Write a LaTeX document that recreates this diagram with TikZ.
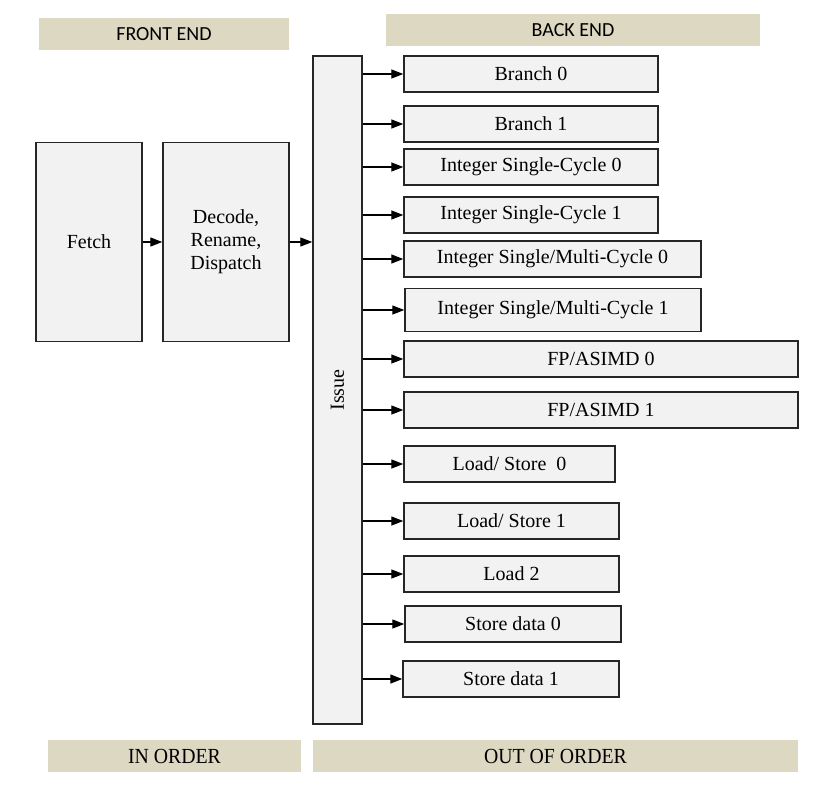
\documentclass[tikz,border=0pt]{standalone}
\usepackage{fontspec}
\setmainfont{Liberation Serif}
\newfontfamily\hdrfont{Carlito}
\usetikzlibrary{arrows.meta}
\definecolor{hdr}{HTML}{DDD8C1}
\definecolor{boxfill}{HTML}{F2F2F2}
\definecolor{edge}{HTML}{262626}
\newcommand{\condensed}[1]{\scalebox{0.92}[1]{#1}}
\begin{document}
\begin{tikzpicture}[x=1pt,y=-1pt,
  unit/.style={draw=edge, line width=1.4pt, fill=boxfill, font=\fontsize{20}{23}\selectfont, inner sep=0pt, align=center},
  header/.style={fill=hdr, inner sep=0pt, minimum height=32pt},
  sanshdr/.style={header, font=\hdrfont\fontsize{20}{22}\selectfont},
  serifhdr/.style={header, font=\fontsize{21.5}{22}\selectfont},
  conn/.style={draw=black, line width=1.3pt, -{Triangle[length=12pt,width=9pt]}}]
\useasboundingbox (0,0) rectangle (816,788);
% headers
\node[sanshdr, minimum width=250pt] (fe) at (164,34) {\raisebox{-2pt}{FRONT END}};
\node[sanshdr, minimum width=374pt] (be) at (573,30) {\raisebox{-2pt}{BACK END}};
\node[serifhdr, minimum width=253pt] (io) at (174.5,756) {\condensed{IN ORDER}};
\node[serifhdr, minimum width=485pt] (oo) at (555.5,756) {\condensed{OUT OF ORDER}};
% front end
\node[unit, minimum width=106pt, minimum height=199pt] (fetch) at (89,242) {Fetch};
\node[unit, minimum width=126pt, minimum height=199pt] (decode) at (226,242) {Decode,\\Rename,\\Dispatch};
\node[unit, minimum width=49pt, minimum height=668pt,
  label={[rotate=90, font=\fontsize{20}{22}\selectfont]center:Issue}] (issue) at (337.5,390) {};
% back end units
\node[unit, minimum width=254pt, minimum height=36pt] (b0) at (531,74) {Branch 0};
\node[unit, minimum width=254pt, minimum height=36pt] (b1) at (531,124) {Branch 1};
\node[unit, minimum width=254pt, minimum height=36pt] (isc0) at (531,167) {Integer Single-Cycle 0};
\node[unit, minimum width=254pt, minimum height=36pt] (isc1) at (531,215) {Integer Single-Cycle 1};
\node[unit, minimum width=297pt, minimum height=36pt] (imc0) at (552.5,259) {Integer Single/Multi-Cycle 0};
\node[unit, minimum width=296pt, minimum height=43pt] (imc1) at (553,310) {Integer Single/Multi-Cycle 1};
\node[unit, minimum width=394pt, minimum height=36pt] (fp0) at (601,359) {FP/ASIMD 0};
\node[unit, minimum width=394pt, minimum height=36pt] (fp1) at (601,410) {FP/ASIMD 1};
\node[unit, minimum width=211pt, minimum height=36pt] (ls0) at (509.5,464) {Load/ Store~~0};
\node[unit, minimum width=215pt, minimum height=36pt] (ls1) at (511.5,521) {Load/ Store 1};
\node[unit, minimum width=215pt, minimum height=36pt] (ld2) at (511.5,574) {Load 2};
\node[unit, minimum width=216pt, minimum height=36pt] (sd0) at (513,624) {Store data 0};
\node[unit, minimum width=216pt, minimum height=36pt] (sd1) at (511,679) {Store data 1};
% connectors
\draw[conn] (fetch.east) -- (decode.west);
\draw[conn] (decode.east) -- (decode.east -| issue.west);
\foreach \u in {b0,b1,isc0,isc1,imc0,imc1,fp0,fp1,ls0,ls1,ld2,sd0,sd1}
  \draw[conn] (issue.east |- \u.west) -- (\u.west);
\end{tikzpicture}
\end{document}
